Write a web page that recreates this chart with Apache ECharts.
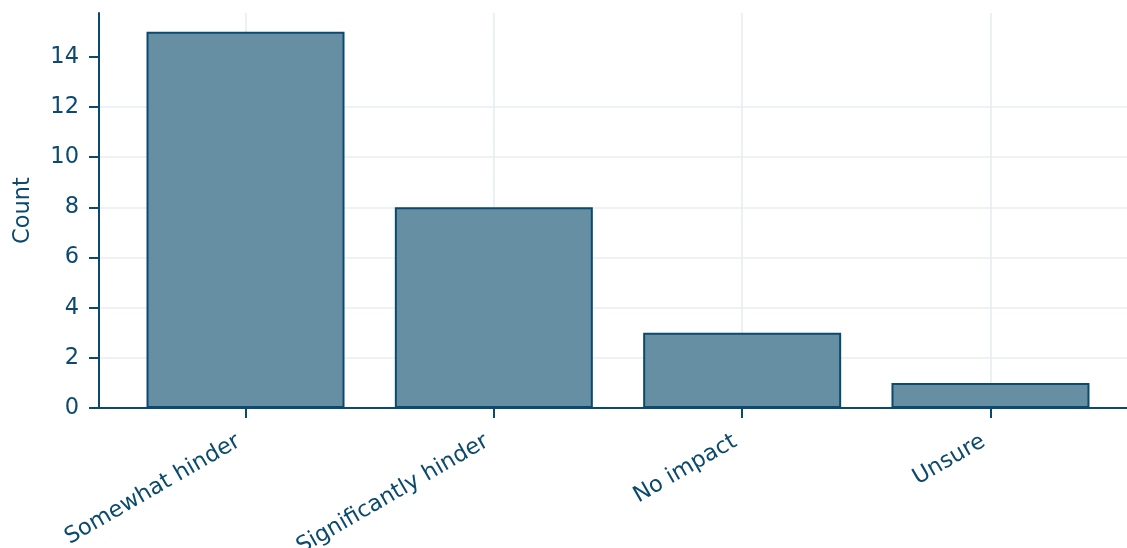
<!DOCTYPE html>
<html>
<head>
<meta charset="utf-8">
<script src="https://cdn.jsdelivr.net/npm/echarts@6/dist/echarts.min.js"></script>
<style>
html,body{margin:0;padding:0;background:#fff;}
#chart{width:1127px;height:548px;}
</style>
</head>
<body>
<div id="chart"></div>
<script>
const categories = ['Somewhat hinder', 'Significantly hinder', 'No impact', 'Unsure'];
const counts = [15, 8, 3, 1];
const yTickValues = [0, 2, 4, 6, 8, 10, 12, 14];
const categoryPositions = [0, 1, 2, 3];

const dark = '#0b4a6e';
const gridColor = '#e8eef1';
const font = 'DejaVu Sans';
const fs = 22.5;

const chart = echarts.init(document.getElementById('chart'));
chart.setOption({
  animation: false,
  backgroundColor: '#ffffff',
  grid: { left: 99, right: -10, top: 13, bottom: 140, containLabel: false, outerBoundsMode: 'none' },
  xAxis: {
    type: 'value',
    min: -0.59,
    max: 3.59,
    axisLine: { show: true, onZero: false, lineStyle: { color: dark, width: 2 } },
    axisTick: { show: true, customValues: categoryPositions, length: 10, lineStyle: { color: dark, width: 2 } },
    axisLabel: {
      show: true,
      customValues: categoryPositions,
      formatter: v => categories[Math.round(v)] || '',
      rotate: 30,
      margin: 28,
      padding: [0, 8, 0, 0],
      fontSize: fs,
      fontFamily: font,
      color: dark
    },
    splitLine: { show: false }
  },
  yAxis: {
    type: 'value',
    min: 0,
    max: 15.75,
    interval: 2,
    name: 'Count',
    nameLocation: 'middle',
    nameGap: 64,
    nameTextStyle: { fontSize: fs, fontFamily: font, color: dark },
    axisLine: { show: true, onZero: false, lineStyle: { color: dark, width: 2 } },
    axisTick: { show: true, customValues: yTickValues, length: 10, lineStyle: { color: dark, width: 2 } },
    axisLabel: { customValues: yTickValues, fontSize: fs, fontFamily: font, color: dark, margin: 20 },
    splitLine: { show: true, showMinLine: false, showMaxLine: false, lineStyle: { color: gridColor, width: 1.7 } }
  },
  series: [{
    type: 'bar',
    z: 2,
    barWidth: 198,
    data: counts.map((c, i) => [categoryPositions[i], c]),
    itemStyle: { color: '#678fa3', borderColor: dark, borderWidth: 2 },
    markLine: {
      silent: true,
      z: 0,
      symbol: 'none',
      label: { show: false },
      lineStyle: { color: gridColor, width: 1.7, type: 'solid' },
      data: categoryPositions.map(p => ({ xAxis: p }))
    }
  }]
});
</script>
</body>
</html>
